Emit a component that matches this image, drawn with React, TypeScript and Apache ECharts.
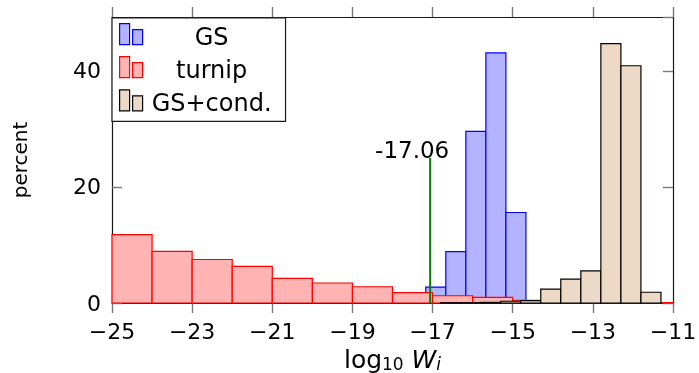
import React, { useEffect, useRef } from "react";
import * as echarts from "echarts";

// Histogram data (lower bin edges and percentages)
const redBinStart = [-25, -24, -23, -22, -21, -20, -19, -18, -17, -16, -15, -14, -13, -12];
const redValues = [11.8, 8.9, 7.5, 6.3, 4.25, 3.45, 2.8, 1.8, 1.25, 0.98, 0.47, 0.1, 0.05, 0.05];
const redWidth = 1;

const blueBinStart = [-17.17, -16.67, -16.17, -15.67, -15.17];
const blueValues = [2.75, 8.85, 29.6, 43.1, 15.6];
const blueWidth = 0.5;

const tanBinStart = [-16.8, -16.3, -15.8, -15.3, -14.8, -14.3, -13.8, -13.3, -12.8, -12.3, -11.8];
const tanValues = [0.05, 0.05, 0.1, 0.3, 0.4, 2.4, 4.1, 5.55, 44.7, 40.9, 1.85];
const tanWidth = 0.5;

const thresholdX = -17.06;
const thresholdTop = 25;
const thresholdLabel = "-17.06";

// x axis range and tick step (ticks at -25, -23, ..., -11)
const xMin = -25;
const xMax = -11;
const xStep = 2;
const yMax = 49.3;
const yStep = 20;
const seriesNames = ["GS", "turnip", "GS+cond."];

const FONT = "DejaVu Sans";

// The x axis is laid out in units counted from xMin so that ticks start at xMin.
const sx = (x: number) => x - xMin;

function bins(starts: number[], values: number[], w: number) {
  return starts.map((s, i) => [sx(s), sx(s + w), values[i]]);
}

function histSeries(name: string, data: number[][], fill: string, stroke: string, z: number) {
  return {
    name,
    type: "custom",
    xAxisIndex: 0,
    yAxisIndex: 0,
    z,
    itemStyle: { color: fill, borderColor: stroke, borderWidth: 1.2 },
    encode: { x: [0, 1], y: 2 },
    data,
    renderItem: (params: any, api: any) => {
      const x0 = api.value(0);
      const x1 = api.value(1);
      const y = api.value(2);
      const p0 = api.coord([x0, y]);
      const p1 = api.coord([x1, 0]);
      return {
        type: "rect",
        shape: { x: p0[0], y: p0[1], width: p1[0] - p0[0], height: p1[1] - p0[1] },
        style: { fill, stroke, lineWidth: 1.2 },
      };
    },
  };
}

const fmtX = (u: number) => {
  const v = Math.round(u + xMin);
  return v < 0 ? "\u2212" + Math.abs(v) : String(v);
};

export default function App() {
  const ref = useRef<HTMLDivElement>(null);
  useEffect(() => {
    if (!ref.current) return;
    const chart = echarts.init(ref.current, undefined, { renderer: "svg" });
    const axisLine = { show: true, onZero: false, lineStyle: { color: "#1a1a1a", width: 1.2 } };
    const tickStyle = { color: "#7a7a7a", width: 1.4 };
    const iconPath = "path://M0,0h10v21h-10z M13,6h10v15h-10z";
    const xBase = {
      type: "value",
      min: 0,
      max: xMax - xMin,
      interval: xStep,
      axisLine,
      splitLine: { show: false },
    };
    const yBase = {
      type: "value",
      min: 0,
      max: yMax,
      interval: yStep,
      axisLine,
      splitLine: { show: false },
    };
    chart.setOption({
      animation: false,
      textStyle: { fontFamily: FONT },
      grid: { left: 112, right: 26, top: 17, bottom: 70, containLabel: false, outerBoundsMode: "none" },
      legend: {
        orient: "vertical",
        left: 112,
        top: 18,
        padding: [5, 14, 6, 7],
        itemGap: 7,
        itemWidth: 23,
        itemHeight: 21,
        backgroundColor: "#fff",
        borderColor: "#1a1a1a",
        borderWidth: 1.2,
        borderRadius: 0,
        icon: iconPath,
        itemStyle: { borderWidth: 1.2 },
        formatter: (n: string) => "{c|" + n + "}",
        textStyle: {
          fontFamily: FONT,
          fontSize: 24,
          color: "#000",
          rich: { c: { fontFamily: FONT, fontSize: 24, color: "#000", width: 128, align: "center", padding: [6, 0, 0, 0] } },
        },
        data: [
          { name: seriesNames[0], itemStyle: { color: "#b3b3ff", borderColor: "#0000ff" } },
          { name: seriesNames[1], itemStyle: { color: "#ffb3b3", borderColor: "#ff0000" } },
          { name: seriesNames[2], itemStyle: { color: "#ecd9c6", borderColor: "#000" } },
        ],
      },
      xAxis: [
        {
          ...xBase,
          position: "bottom",
          axisTick: { show: true, inside: false, length: 10, lineStyle: tickStyle },
          axisLabel: {
            formatter: fmtX,
            fontFamily: FONT,
            fontSize: 22,
            color: "#000",
            margin: 17,
          },
          name: "{a|log}{s|10}{a| }{w|W}{si|i}",
          nameLocation: "middle",
          nameGap: 37,
          nameTextStyle: {
            rich: {
              a: { fontFamily: FONT, fontSize: 25, color: "#000", lineHeight: 26 },
              w: { fontFamily: FONT, fontSize: 25, color: "#000", fontStyle: "italic", lineHeight: 26 },
              s: { fontFamily: FONT, fontSize: 17, color: "#000", verticalAlign: "bottom", lineHeight: 12 },
              si: { fontFamily: FONT, fontSize: 17, color: "#000", fontStyle: "italic", verticalAlign: "bottom", lineHeight: 12 },
            },
          },
        },
        {
          ...xBase,
          position: "top",
          axisTick: { show: true, inside: false, length: 10, lineStyle: tickStyle },
          axisLabel: { show: false },
        },
      ],
      yAxis: [
        {
          ...yBase,
          position: "left",
          axisTick: { show: true, inside: true, length: 10, lineStyle: tickStyle },
          axisLabel: {
            showMaxLabel: false,
            fontFamily: FONT,
            fontSize: 22,
            color: "#000",
            margin: 11,
            padding: [5, 0, 0, 0],
          },
          name: "percent",
          nameLocation: "middle",
          nameGap: 82,
          nameRotate: 90,
          nameTextStyle: { fontFamily: FONT, fontSize: 20, color: "#000" },
        },
        {
          ...yBase,
          position: "right",
          axisTick: { show: true, inside: true, length: 10, lineStyle: tickStyle },
          axisLabel: { show: false },
        },
      ],
      series: [
        histSeries(seriesNames[0], bins(blueBinStart, blueValues, blueWidth), "#b3b3ff", "#0000ff", 2),
        histSeries(seriesNames[1], bins(redBinStart, redValues, redWidth), "#ffb3b3", "#ff0000", 3),
        histSeries(seriesNames[2], bins(tanBinStart, tanValues, tanWidth), "#ecd9c6", "#000000", 4),
        {
          name: "threshold",
          type: "line",
          xAxisIndex: 0,
          yAxisIndex: 0,
          z: 5,
          symbol: "none",
          lineStyle: { color: "#008000", width: 2 },
          data: [
            [sx(thresholdX), 0],
            [sx(thresholdX), thresholdTop],
          ],
        },
        {
          name: "thresholdLabel",
          type: "scatter",
          xAxisIndex: 0,
          yAxisIndex: 0,
          z: 6,
          symbolSize: 0,
          itemStyle: { color: "#000", opacity: 1 },
          label: {
            show: true,
            position: "top",
            distance: 0,
            offset: [-18, 4],
            formatter: thresholdLabel,
            fontFamily: FONT,
            fontSize: 23,
            color: "#000",
            opacity: 1,
          },
          data: [[sx(thresholdX), thresholdTop]],
        },
      ],
    });
    return () => chart.dispose();
  }, []);
  return <div ref={ref} style={{ position: "fixed", left: 0, top: 0, width: 699, height: 373 }} />;
}
